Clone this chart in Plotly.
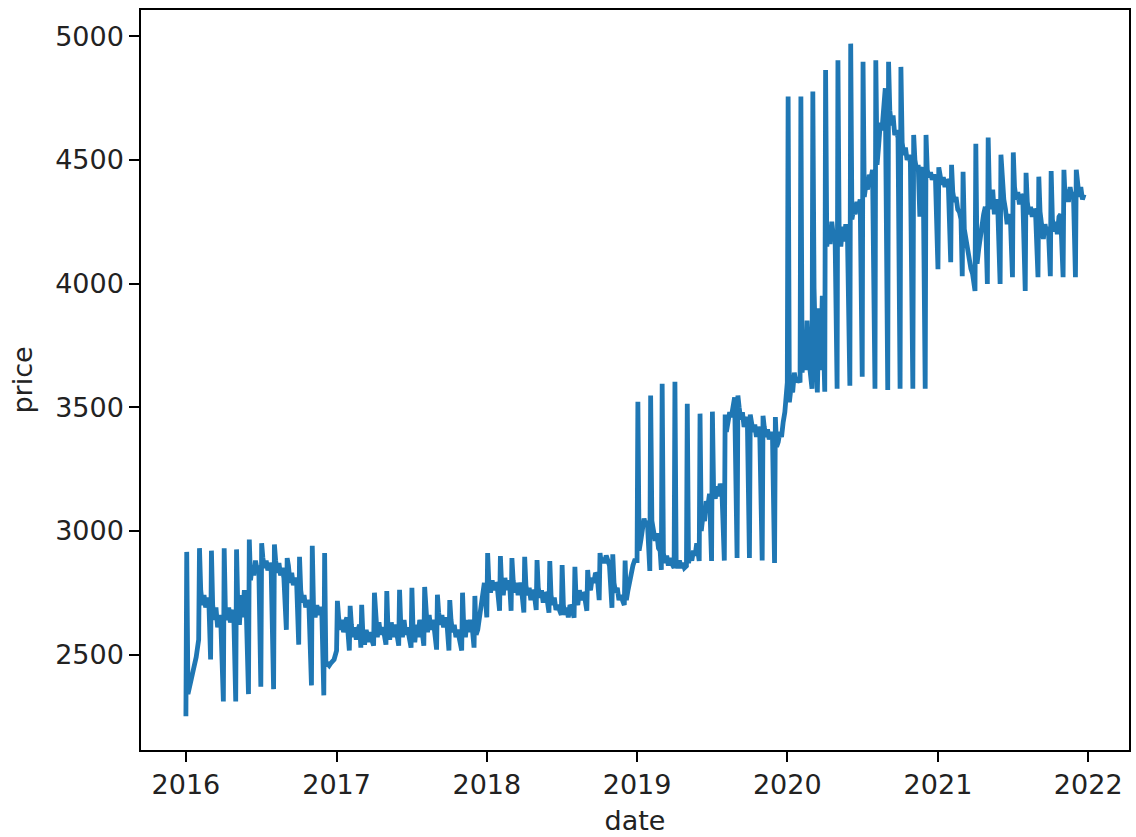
import pandas as pd
import plotly.graph_objects as go

# ---- data -------------------------------------------------------------
years = [2016, 2017, 2018, 2019, 2020, 2021]

# price range swept in the first days of each month (12 values per year)
spike_low = [
    2250, 2560, 2480, 2310, 2310, 2340, 2370, 2360, 2600, 2540, 2375, 2335,  # 2016
    2516, 2516, 2528, 2536, 2540, 2536, 2528, 2536, 2520, 2516, 2516, 2528,  # 2017
    2650, 2677, 2677, 2670, 2680, 2669, 2660, 2649, 2677, 2720, 2689, 2700,  # 2018
    2880, 2838, 2842, 2850, 2858, 2878, 2878, 2880, 2890, 2890, 2880, 2870,  # 2019
    3600, 3600, 3575, 3563, 3575, 3587, 3623, 3575, 3570, 3575, 3575, 3575,  # 2020
    4058, 4086, 4030, 3970, 3998, 3998, 4026, 3970, 4026, 4030, 4026, 4026,  # 2021
]
spike_high = [
    2915, 2930, 2920, 2930, 2925, 2965, 2950, 2945, 2890, 2895, 2940, 2910,  # 2016
    2717, 2697, 2701, 2750, 2757, 2762, 2770, 2773, 2742, 2720, 2750, 2737,  # 2017
    2910, 2898, 2890, 2895, 2882, 2878, 2862, 2855, 2842, 2910, 2905, 2880,  # 2018
    3522, 3547, 3595, 3603, 3514, 3474, 3482, 3470, 3547, 3470, 3465, 3460,  # 2019
    4756, 4756, 4776, 4863, 4903, 4970, 4897, 4903, 4897, 4876, 4601, 4601,  # 2020
    4470, 4480, 4452, 4565, 4590, 4521, 4530, 4448, 4432, 4455, 4460, 4460,  # 2021
]

# prices over the rest of each month (one row per month)
base_2016 = [
    [2340, 2380, 2400, 2430, 2460, 2490],
    [2760, 2700, 2740, 2690, 2730, 2700],
    [2700, 2640, 2690, 2610, 2660, 2620],
    [2670, 2640, 2690, 2630, 2660, 2680],
    [2700, 2620, 2740, 2650, 2760, 2720],
    [2800, 2860, 2820, 2880, 2840, 2860],
    [2890, 2850, 2880, 2840, 2870, 2850],
    [2880, 2830, 2870, 2820, 2850, 2810],
    [2860, 2790, 2830, 2780, 2810, 2790],
    [2760, 2710, 2740, 2690, 2720, 2690],
    [2690, 2650, 2700, 2660, 2690, 2680],
    [2470, 2460, 2455, 2465, 2470, 2480],
]
base_2017 = [
    [2650, 2600, 2640, 2590, 2630, 2650],
    [2620, 2570, 2610, 2560, 2600, 2620],
    [2580, 2540, 2600, 2550, 2590, 2570],
    [2620, 2570, 2630, 2580, 2610, 2590],
    [2600, 2560, 2630, 2570, 2620, 2600],
    [2620, 2570, 2640, 2580, 2610, 2580],
    [2590, 2550, 2620, 2570, 2640, 2620],
    [2640, 2590, 2660, 2600, 2640, 2610],
    [2670, 2620, 2660, 2610, 2650, 2630],
    [2640, 2590, 2620, 2570, 2600, 2560],
    [2610, 2570, 2640, 2590, 2640, 2620],
    [2580, 2600, 2640, 2690, 2740, 2790],
]
base_2018 = [
    [2790, 2750, 2800, 2760, 2790, 2780],
    [2780, 2740, 2810, 2760, 2800, 2770],
    [2800, 2750, 2790, 2740, 2790, 2770],
    [2780, 2740, 2770, 2720, 2760, 2750],
    [2770, 2730, 2760, 2710, 2750, 2740],
    [2740, 2700, 2730, 2680, 2700, 2680],
    [2700, 2660, 2690, 2650, 2700, 2690],
    [2720, 2700, 2760, 2720, 2750, 2740],
    [2780, 2760, 2810, 2790, 2830, 2820],
    [2870, 2890, 2870, 2900, 2880, 2860],
    [2790, 2750, 2770, 2720, 2740, 2720],
    [2720, 2760, 2800, 2820, 2860, 2880],
]
base_2019 = [
    [2920, 2960, 3000, 3050, 3020, 3040],
    [3040, 3000, 2960, 2990, 2930, 2920],
    [2910, 2870, 2900, 2860, 2890, 2870],
    [2870, 2850, 2880, 2850, 2870, 2850],
    [2870, 2900, 2880, 2920, 2900, 2950],
    [3000, 3060, 3040, 3120, 3100, 3150],
    [3160, 3130, 3180, 3140, 3190, 3170],
    [3400, 3440, 3480, 3460, 3520, 3540],
    [3500, 3450, 3480, 3420, 3460, 3440],
    [3440, 3400, 3430, 3380, 3420, 3400],
    [3420, 3380, 3410, 3370, 3400, 3380],
    [3340, 3360, 3400, 3380, 3440, 3480],
]
base_2020 = [
    [3520, 3580, 3560, 3640, 3600, 3620],
    [3640, 3720, 3650, 3850, 3700, 3620],
    [3980, 3700, 3560, 3900, 3650, 3950],
    [4150, 4220, 4160, 4250, 4190, 4200],
    [4200, 4150, 4230, 4170, 4240, 4210],
    [4260, 4300, 4280, 4330, 4310, 4340],
    [4350, 4400, 4380, 4440, 4420, 4460],
    [4480, 4560, 4650, 4620, 4720, 4790],
    [4700, 4640, 4680, 4600, 4620, 4590],
    [4570, 4520, 4550, 4500, 4520, 4490],
    [4500, 4460, 4480, 4270, 4450, 4470],
    [4460, 4430, 4450, 4420, 4440, 4420],
]
base_2021 = [
    [4440, 4400, 4430, 4390, 4420, 4410],
    [4370, 4330, 4350, 4300, 4290, 4260],
    [4220, 4180, 4120, 4080, 4060, 4040],
    [4080, 4140, 4200, 4260, 4280, 4310],
    [4360, 4300, 4380, 4280, 4340, 4320],
    [4420, 4340, 4300, 4240, 4280, 4260],
    [4390, 4340, 4370, 4320, 4360, 4350],
    [4330, 4280, 4310, 4270, 4300, 4290],
    [4290, 4220, 4180, 4240, 4200, 4230],
    [4260, 4210, 4250, 4200, 4270, 4280],
    [4340, 4380, 4330, 4390, 4350, 4370],
    [4400, 4350, 4390, 4340, 4360],
]
base_by_year = [base_2016, base_2017, base_2018, base_2019, base_2020, base_2021]

year_ticks = ["2016", "2017", "2018", "2019", "2020", "2021", "2022"]
price_ticks = [2500, 3000, 3500, 4000, 4500, 5000]

# ---- assemble the dated series ----------------------------------------
spike_days = (1, 3)
base_days = (6, 10, 14, 18, 22, 26)
dates, prices = [], []
i = 0
for y, rows in zip(years, base_by_year):
    for m, row in enumerate(rows, start=1):
        for d, v in zip(spike_days, (spike_low[i], spike_high[i])):
            dates.append(pd.Timestamp(y, m, d))
            prices.append(v)
        for d, v in zip(base_days, row):
            dates.append(pd.Timestamp(y, m, d))
            prices.append(v)
        i += 1

# axis limits with 5 % padding around the data
t0, t1 = min(dates), max(dates)
pad_t = (t1 - t0) * 0.05
p0, p1 = min(prices), max(prices)
pad_p = (p1 - p0) * 0.05

fig = go.Figure(
    go.Scatter(
        x=dates,
        y=prices,
        mode="lines",
        line=dict(color="#1f77b4", width=4.8),
        hoverinfo="skip",
    )
)

text_font = dict(family="DejaVu Sans", size=27, color="#222222")
axis_style = dict(
    showline=True,
    mirror=True,
    linecolor="black",
    linewidth=2.2,
    ticks="outside",
    ticklen=9.6,
    tickwidth=2.2,
    tickcolor="black",
    showgrid=False,
    zeroline=False,
    tickfont=text_font,
)

fig.update_xaxes(
    range=[t0 - pad_t, t1 + pad_t],
    tickvals=[pd.Timestamp(int(t), 1, 1) for t in year_ticks],
    ticktext=year_ticks,
    title=dict(text="date", standoff=12, font=text_font),
    **axis_style,
)
fig.update_yaxes(
    range=[p0 - pad_p, p1 + pad_p],
    tickvals=price_ticks,
    ticktext=[str(v) for v in price_ticks],
    title=dict(text="price", standoff=15, font=text_font),
    **axis_style,
)

fig.update_layout(
    width=1136,
    height=837,
    margin=dict(l=141, r=5, t=10, b=87),
    plot_bgcolor="white",
    paper_bgcolor="white",
    showlegend=False,
)

fig.write_html("out.html")
